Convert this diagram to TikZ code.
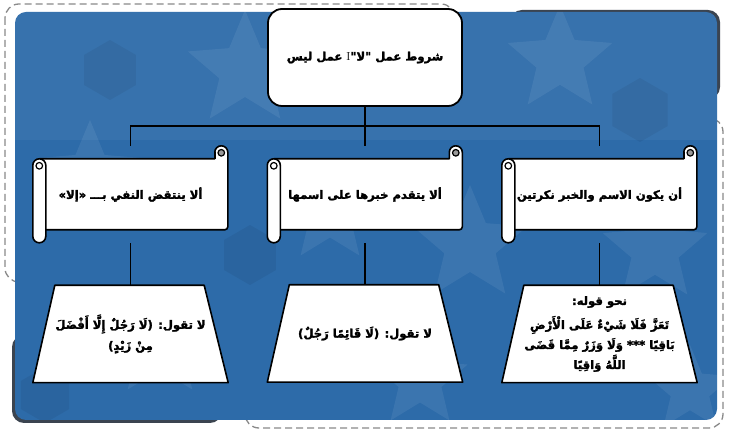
\documentclass[tikz,border=0pt]{standalone}
\usepackage{fontspec}
\usetikzlibrary{calc}
\newfontfamily\arabicfont[Script=Arabic, FakeBold=2.2]{DejaVu Sans}
\TeXXeTstate=1
\pgfdeclarelayer{back}
\pgfdeclarelayer{mid}
\pgfsetlayers{back,mid,main}
\definecolor{bgblue}{HTML}{2D6BA9}
\definecolor{rim}{HTML}{3B4450}
\definecolor{dashgray}{HTML}{8A8A8A}
\definecolor{curlgray}{HTML}{9A9A9A}
\newcommand{\artext}{\arabicfont\bfseries\fontsize{11.6}{21}\selectfont}
\tikzset{
  conn/.style={draw=black, line width=1.5pt},
  rootbox/.style={draw=black, fill=white, line width=1.8pt, rounded corners=14pt,
    minimum width=194pt, minimum height=97pt, align=center, font=\artext},
  scrollnode/.style={minimum width=195pt, minimum height=97pt, inner sep=0pt,
    align=center, font=\artext},
  trapnode/.style={minimum width=195pt, minimum height=97pt, inner sep=0pt,
    align=center, font=\artext},
  shapeline/.style={draw=black, fill=white, line width=1.6pt, line join=round},
  dashedframe/.style={draw=dashgray, dash pattern=on 7pt off 4pt, line width=1.3pt,
    rounded corners=14pt},
  light/.style={fill=white, opacity=0.07},
  dark/.style={fill=black, opacity=0.06}
}
\newcommand{\bgstar}[4]{%
  \fill[#4] ([shift={(#1,#2)}]90:#3pt)
    \foreach \a in {90,162,234,306,378}{
      -- ([shift={(#1,#2)}]{\a+36}:{0.45*#3pt})
      -- ([shift={(#1,#2)}]{\a+72}:#3pt)} -- cycle;}
\newcommand{\bghex}[4]{%
  \fill[#4] ([shift={(#1,#2)}]30:#3pt)
    \foreach \a in {90,150,210,270,330}{
      -- ([shift={(#1,#2)}]\a:#3pt)} -- cycle;}
\newcommand{\drawscroll}[1]{%
  \begin{scope}[shift={(#1.north west)}]
    \filldraw[shapeline] (6.5,13) -- (182,13) -- (182,6.5)
      arc[start angle=180, end angle=0, radius=6.5pt]
      [rounded corners=3pt] -- (195,84) -- (13,84) [sharp corners] -- (6.5,84) -- cycle;
    \filldraw[shapeline, fill=curlgray, line width=1.2pt] (188.5,7) circle[radius=3.3pt];
    \draw[shapeline] (182,13) -- (182,6.5);
    \filldraw[shapeline] (0,19.5) -- (0,90.5)
      arc[start angle=180, end angle=360, radius=6.5pt]
      -- (13,19.5) arc[start angle=0, end angle=180, radius=6.5pt] -- cycle;
    \filldraw[shapeline, line width=1.2pt] (6.5,20) circle[radius=3.3pt];
  \end{scope}}
\newcommand{\drawtrap}[1]{%
  \filldraw[shapeline] (#1.south west) -- ($(#1.north west)+(22,0)$)
    -- ($(#1.north east)+(-24,0)$) -- (#1.south east) -- cycle;}
\begin{document}
\begin{tikzpicture}[x=1pt,y=-1pt]
\useasboundingbox (0,0) rectangle (729,435);
\begin{pgfonlayer}{back}
  \fill[white] (0,0) rectangle (729,435);
  \draw[dashedframe] (5,4) rectangle (455,282);
  \draw[dashedframe] (245,118) rectangle (723,428);
  \fill[rim, rounded corners=12pt] (510,10) rectangle (720,99);
  \fill[rim, rounded corners=12pt] (12,335) rectangle (222,423);
  \fill[bgblue, rounded corners=11pt] (15,12) rectangle (717,420);
  \begin{scope}
    \clip[rounded corners=11pt] (15,12) rectangle (717,420);
    \bgstar{245}{70}{60}{light}
    \bgstar{90}{175}{55}{light}
    \bgstar{560}{60}{55}{light}
    \bgstar{470}{245}{60}{light}
    \bgstar{655}{250}{55}{light}
    \bgstar{330}{215}{50}{light}
    \bgstar{160}{345}{55}{light}
    \bgstar{420}{380}{50}{light}
    \bgstar{690}{390}{45}{light}
    \bghex{110}{70}{30}{dark}
    \bghex{395}{55}{28}{dark}
    \bghex{640}{110}{32}{dark}
    \bghex{250}{255}{30}{dark}
    \bghex{560}{345}{30}{dark}
    \bghex{45}{395}{28}{dark}
    \fill[white, opacity=0.05] (15,12) rectangle (717,140);
  \end{scope}
\end{pgfonlayer}

\node[rootbox] (root) at (365,57.5)
  {\beginR شروط عمل "لا"\textnormal{I} عمل ليس\endR};

\node[scrollnode] (s1) at (130.5,194.5) {\beginR ألا ينتقض النفي بـــ «إلا»\endR};
\node[scrollnode] (s2) at (365,194.5) {\beginR ألا يتقدم خبرها على اسمها\endR};
\node[scrollnode] (s3) at (599.5,194.5) {\beginR أن يكون الاسم والخبر نكرتين\endR};

\node[trapnode] (t1) at (130.5,334)
  {\beginR لا تقول: (لَا رَجُلٌ إِلَّا أَفْضَلَ\endR\\ \beginR مِنْ زَيْدٍ)\endR};
\node[trapnode] (t2) at (365,333.5)
  {\beginR لا تقول: (لَا قَائِمًا رَجُلٌ)\endR};
\node[trapnode, font=\arabicfont\bfseries\fontsize{11.6}{20}\selectfont] (t3) at (599.5,334)
  {\beginR نحو قوله:\endR\\[4pt]
   \beginR تَعَزَّ فَلَا شَيْءٌ عَلَى الْأَرْضِ\endR\\
   \beginR بَاقِيًا *** وَلَا وَزَرٌ مِمَّا قَضَى\endR\\
   \beginR اللَّهُ وَاقِيًا\endR};

\begin{pgfonlayer}{mid}
  \drawscroll{s1}
  \drawscroll{s2}
  \drawscroll{s3}
  \drawtrap{t1}
  \drawtrap{t2}
  \drawtrap{t3}
\end{pgfonlayer}

\coordinate (bus) at (365,126);
\draw[conn] (root.south) -- (s2.north);
\draw[conn] (s1.north) |- (bus);
\draw[conn] (s3.north) |- (bus);
\draw[conn] (s1.south) -- (t1.north);
\draw[conn] (s2.south) -- (t2.north);
\draw[conn] (s3.south) -- (t3.north);
\end{tikzpicture}
\end{document}
